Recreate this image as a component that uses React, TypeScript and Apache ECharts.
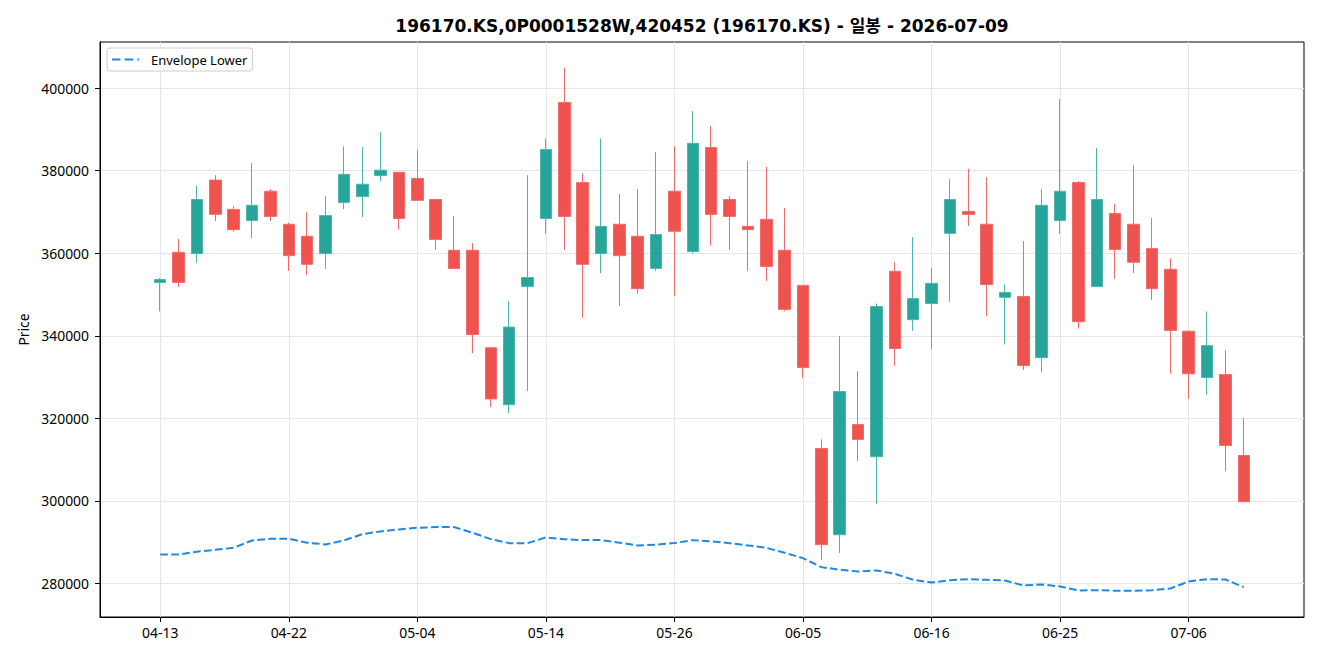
import React, { useEffect, useRef } from "react";
import * as echarts from "echarts";

const dates = [
  "04-13","04-14","04-15","04-16","04-17","04-20","04-21","04-22","04-23","04-24",
  "04-27","04-28","04-29","04-30","05-04","05-06","05-07","05-08","05-11","05-12",
  "05-13","05-14","05-15","05-18","05-19","05-20","05-21","05-22","05-26","05-27",
  "05-28","05-29","06-01","06-02","06-04","06-05","06-08","06-09","06-10","06-11",
  "06-12","06-15","06-16","06-17","06-18","06-19","06-22","06-23","06-24","06-25",
  "06-26","06-29","06-30","07-01","07-02","07-03","07-06","07-07","07-08","07-09",
];

const opens = [
  352900,360200,359900,377700,370600,367900,375000,367000,364100,359900,
  372300,373700,378800,379600,378100,373000,360700,360700,337100,323300,
  351900,368400,396500,377100,359900,367000,364100,356300,375000,360400,
  385600,373000,366500,368200,360700,352200,312700,291800,318500,310700,
  355600,343900,347800,364800,370100,367000,349300,349500,334700,367900,
  377100,351900,369600,367000,361100,356100,341100,329900,330600,311000,
];
const closes = [
  353600,352900,373000,369400,365700,371600,368900,359400,357300,369100,
  379100,376700,380100,368400,372800,363300,356300,340300,324700,342100,
  354100,385100,368900,357300,366500,359400,351400,364500,365300,386600,
  369400,368900,365700,356800,346400,332300,289400,326500,314900,347100,
  336900,349000,352700,373000,369400,352400,350500,332800,371600,375000,
  343400,373000,360900,357800,351400,341300,330800,337600,313400,299800,
];
const lows = [
  345900,351800,357700,367800,365200,363700,367800,355700,354700,356200,
  370700,368800,377400,365700,372800,360800,356300,335800,322700,321300,
  326600,364700,360800,344300,355200,347200,350200,355700,349700,359900,
  361900,360800,355700,353300,345900,329800,285700,287400,309700,299300,
  332700,341200,336800,348200,366600,344800,337900,331700,331200,364700,
  341700,351800,353800,355200,348700,330800,324700,325700,307200,299800,
];
const highs = [
  354000,363400,376400,378900,371400,381800,375500,367400,369900,373800,
  385900,385700,389300,379600,385000,373000,369000,362400,337100,348400,
  378900,387800,404900,379300,387800,374300,375500,384500,385900,394400,
  390800,373800,382300,380900,370900,352200,314900,339900,331400,347800,
  357800,363900,356400,377900,380400,378400,352400,362900,375500,397300,
  377500,385500,371900,381300,368500,358800,341300,345900,336500,320000,
];
const envelopeLower = [
  287030,287030,287680,288160,288650,290420,290830,290830,289870,289460,
  290420,291950,292610,293100,293500,293650,293650,292300,290740,289770,
  289770,291150,290740,290500,290500,289870,289220,289380,289800,290500,
  290180,289770,289220,288650,287440,286140,283960,283320,282910,283150,
  282350,280890,280240,280800,281050,280890,280730,279520,279760,279270,
  278300,278380,278220,278220,278380,278790,280490,281050,280970,279110,
];
const xTickIndices = [0, 7, 14, 21, 28, 35, 42, 49, 56];
const yTicks = [280000, 300000, 320000, 340000, 360000, 380000, 400000];
const titleText = "196170.KS,0P0001528W,420452 (196170.KS) - 일봉 - 2026-07-09";
const legendName = "Envelope Lower";

const FONT = "'Noto Sans', 'Noto Sans CJK KR', sans-serif";
const TITLE_FONT = "'DejaVu Sans', 'Noto Sans CJK KR', sans-serif";
const LEGEND_ICON =
  "path://M0,0h8.4v2h-8.4z M12.7,0h8.4v2h-8.4z M25.4,0h1.7v2h-1.7z M33.99,0h0.01v2h-0.01z";

export default function App() {
  const ref = useRef<HTMLDivElement>(null);
  useEffect(() => {
    if (!ref.current) return;
    const chart = echarts.init(ref.current, null, { renderer: "svg" });
    const candleData = dates.map((_, i) => [i, opens[i], closes[i], lows[i], highs[i]]);
    const lineData = envelopeLower.map((v, i) => [i, v]);
    chart.setOption({
      animation: false,
      backgroundColor: "#fff",
      textStyle: { fontFamily: FONT },
      graphic: [
        {
          type: "text",
          x: 702,
          y: 26,
          style: {
            text: titleText,
            fontFamily: TITLE_FONT,
            fontSize: 17,
            fontWeight: "bold",
            fill: "#000",
            textAlign: "center",
            textVerticalAlign: "middle",
          },
        },
      ],
      legend: {
        left: 107,
        top: 48,
        padding: [5, 5, 5, 5],
        itemWidth: 34,
        itemHeight: 14,
        borderColor: "#cccccc",
        borderWidth: 1,
        borderRadius: 3,
        backgroundColor: "#fff",
        textStyle: { fontSize: 13, color: "#000", fontFamily: FONT },
        data: [{ name: legendName, icon: LEGEND_ICON, itemStyle: { color: "#1e88e5" } }],
      },
      grid: {
        left: 100,
        top: 42,
        right: 16,
        bottom: 43,
        show: true,
        borderColor: "#000",
        borderWidth: 1,
        backgroundColor: "transparent",
      },
      xAxis: {
        type: "value",
        min: -3.28,
        max: 62.28,
        axisLine: { show: true, onZero: false, lineStyle: { color: "#000" } },
        axisTick: {
          show: true,
          length: 5,
          customValues: xTickIndices,
          lineStyle: { color: "#000" },
        },
        axisLabel: {
          customValues: xTickIndices,
          formatter: (v: number) => dates[Math.round(v)] ?? "",
          color: "#000",
          fontSize: 13.9,
          margin: 9,
        },
        splitLine: { show: true, lineStyle: { color: "#e5e5e5", width: 1 } },
      },
      yAxis: {
        type: "value",
        min: 271880,
        max: 411150,
        name: "Price",
        nameLocation: "middle",
        nameRotate: 90,
        nameGap: 70,
        nameTextStyle: { color: "#000", fontSize: 13.9 },
        axisLine: { show: true, onZero: false, lineStyle: { color: "#000" } },
        axisTick: {
          show: true,
          length: 5,
          customValues: yTicks,
          lineStyle: { color: "#000" },
        },
        axisLabel: {
          customValues: yTicks,
          formatter: (v: number) => String(v),
          color: "#000",
          fontSize: 13.9,
          margin: 11,
        },
        splitLine: { show: true, lineStyle: { color: "#e5e5e5", width: 1 } },
      },
      series: [
        {
          type: "candlestick",
          name: "Price",
          data: candleData,
          barWidth: 12,
          itemStyle: {
            color: "#26a69a",
            color0: "#ef5350",
            borderColor: "#4db6ac",
            borderColor0: "#f26b68",
            borderWidth: 1,
          },
        },
        {
          type: "line",
          name: legendName,
          data: lineData,
          symbol: "none",
          lineStyle: { color: "#1e88e5", width: 2, type: [7.7, 3.3] },
          itemStyle: { color: "#1e88e5" },
          z: 3,
        },
      ],
    });
    return () => chart.dispose();
  }, []);
  return (
    <div
      ref={ref}
      style={{ position: "fixed", left: 0, top: 0, width: 1320, height: 660 }}
    />
  );
}
